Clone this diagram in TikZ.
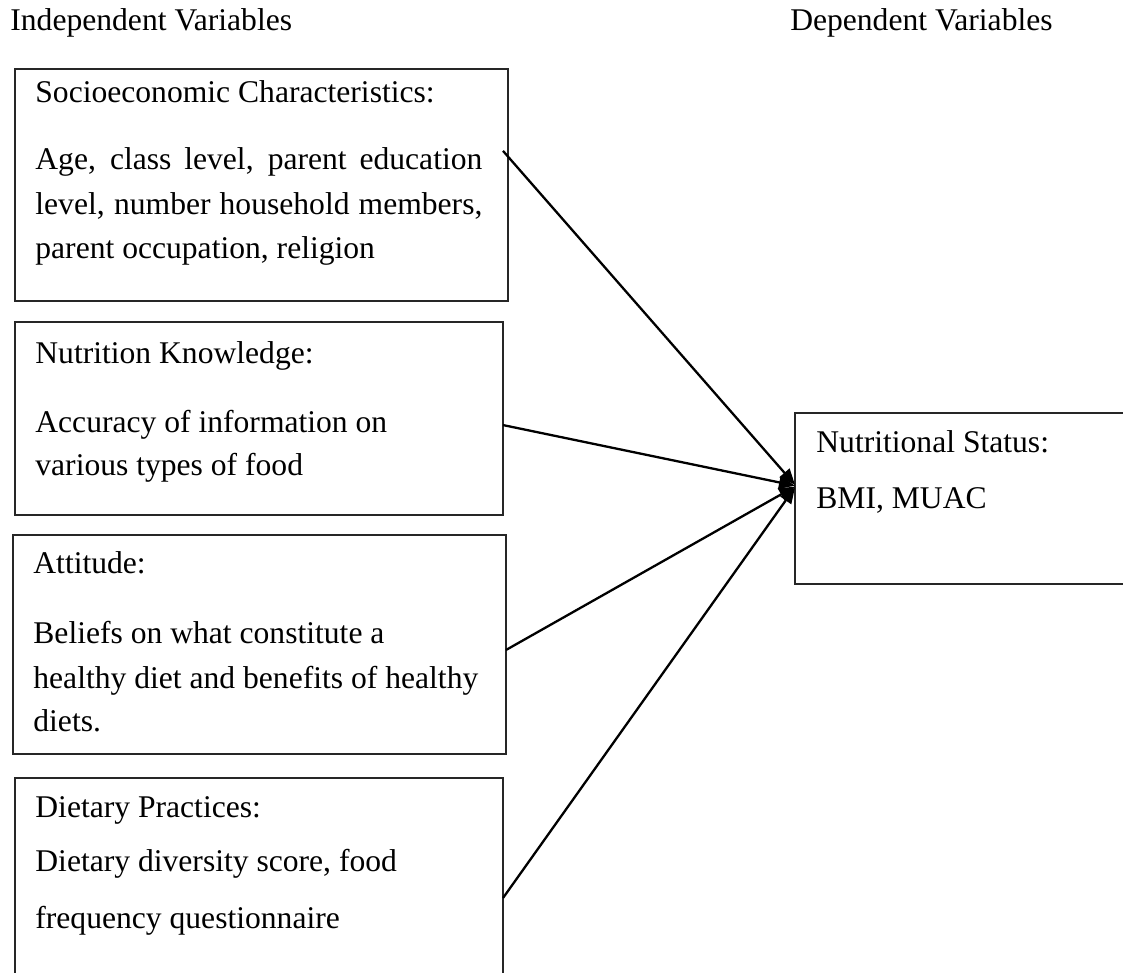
\documentclass[tikz,border=0pt]{standalone}
\usepackage{fontspec}
\setmainfont{Liberation Serif}
\usetikzlibrary{arrows.meta,calc}
\begin{document}
\begin{tikzpicture}[x=0.5pt,y=-0.5pt,
  box/.style={draw=black!85, line width=0.6pt, rectangle, inner sep=0pt, outer sep=0pt, anchor=north west},
  txt/.style={anchor=base west, inner sep=0pt, font=\fontsize{15.8pt}{18pt}\selectfont},
  link/.style={line width=1.15pt, -{Triangle[length=8pt,width=6.5pt]}}]
\useasboundingbox (0,0) rectangle (1123,973);
% headings
\node[txt] (h1) at (10,31) {Independent Variables};
\node[txt, anchor=base east] (h2) at (1053,31) {Dependent Variables};
% boxes
\node[box, minimum width=246.5pt, minimum height=116pt] (b1) at (15,69) {};
\node[box, minimum width=244pt, minimum height=96.5pt] (b2) at (15,322) {};
\node[box, minimum width=246.5pt, minimum height=109.5pt] (b3) at (13,535) {};
\node[box, minimum width=244pt, minimum height=106pt] (b4) at (15,778) {};
\node[box, minimum width=167.5pt, minimum height=85.5pt] (b5) at (795,413) {};
% box 1 text
\node[txt] (b1a) at (35,103) {Socioeconomic Characteristics:};
\node[txt] (b1b) at (35,170) {\makebox[223.5pt][s]{Age, class level, parent education}};
\node[txt] (b1c) at (35,214) {\makebox[223.5pt][s]{level, number household members,}};
\node[txt] (b1d) at (35,258) {parent occupation, religion};
% box 2 text
\node[txt] (b2a) at (35,363) {Nutrition Knowledge:};
\node[txt] (b2b) at (35,432) {Accuracy of information on};
\node[txt] (b2c) at (35,475) {various types of food};
% box 3 text
\node[txt] (b3a) at (33,573) {Attitude:};
\node[txt] (b3b) at (33,643) {Beliefs on what constitute a};
\node[txt] (b3c) at (33,688) {healthy diet and benefits of healthy};
\node[txt] (b3d) at (33,731) {diets.};
% box 4 text
\node[txt] (b4a) at (35,817) {Dietary Practices:};
\node[txt] (b4b) at (35,871) {Dietary diversity score, food};
\node[txt] (b4c) at (35,928) {frequency questionnaire};
% box 5 text
\node[txt] (b5a) at (816,452) {Nutritional Status:};
\node[txt] (b5b) at (816,508) {BMI, MUAC};
% connectors
\draw[link] ($(b1.north east)!0.353!(b1.south east)+(-5,0)$) -- ($(b5.north west)!0.42!(b5.south west)$);
\draw[link] ($(b2.north east)!0.534!(b2.south east)$) -- ($(b5.north west)!0.425!(b5.south west)$);
\draw[link] ($(b3.north east)!0.525!(b3.south east)$) -- ($(b5.north west)!0.43!(b5.south west)$);
\draw[link] ($(b4.north east)!0.566!(b4.south east)$) -- ($(b5.north west)!0.435!(b5.south west)$);
\end{tikzpicture}
\end{document}
